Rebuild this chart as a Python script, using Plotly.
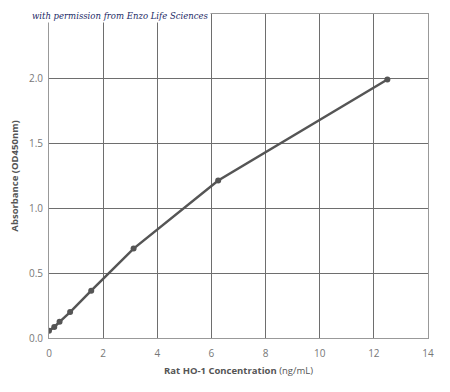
import plotly.graph_objects as go

concentration = [0, 0.195, 0.39, 0.78, 1.56, 3.125, 6.25, 12.5]
absorbance = [0.055, 0.085, 0.125, 0.20, 0.365, 0.69, 1.215, 1.995]
x_ticks = [0, 2, 4, 6, 8, 10, 12, 14]
y_ticks = [0.0, 0.5, 1.0, 1.5, 2.0, 2.5]
y_tick_labels = ["0.0", "0.5", "1.0", "1.5", "2.0", ""]

fig = go.Figure()
fig.add_trace(go.Scatter(
    x=concentration, y=absorbance, mode="lines+markers",
    line=dict(color="#555555", width=2.5),
    marker=dict(color="#555555", size=6),
    showlegend=False,
))

fig.update_layout(
    width=442, height=384,
    margin=dict(l=41, r=22, t=6, b=54),
    paper_bgcolor="white", plot_bgcolor="white",
    font=dict(family="Open Sans", color="#777777", size=10),
    xaxis=dict(
        range=[0, 14], tickvals=x_ticks, ticktext=[str(v) for v in x_ticks],
        showgrid=True, gridcolor="#6e6e6e", gridwidth=1.3,
        showline=True, linecolor="#999999", linewidth=1, mirror=True,
        zeroline=False, ticks="", ticklen=0, automargin=False,
        ticklabelstandoff=6,
        title=dict(text="<b>Rat HO-1 Concentration</b> (ng/mL)",
                   font=dict(size=9.5, color="#555555"), standoff=8),
    ),
    yaxis=dict(
        range=[0, 2.5], tickvals=y_ticks, ticktext=y_tick_labels,
        showgrid=True, gridcolor="#6e6e6e", gridwidth=1.3,
        showline=True, linecolor="#999999", linewidth=1, mirror=True,
        zeroline=False, ticks="", ticklen=0, automargin=False,
        ticklabelstandoff=3,
        title=dict(text="<b>Absorbance (OD450nm)</b>",
                   font=dict(size=9.5, color="#555555"), standoff=8),
    ),
)

fig.add_annotation(
    text="<i>with permission from Enzo Life Sciences</i>",
    xref="paper", yref="paper", x=-0.05, y=0.994, xanchor="left", yanchor="middle",
    showarrow=False, bgcolor="white",
    font=dict(family="DejaVu Serif", size=8.5, color="#1b2a66"),
)

fig.write_html("out.html")
